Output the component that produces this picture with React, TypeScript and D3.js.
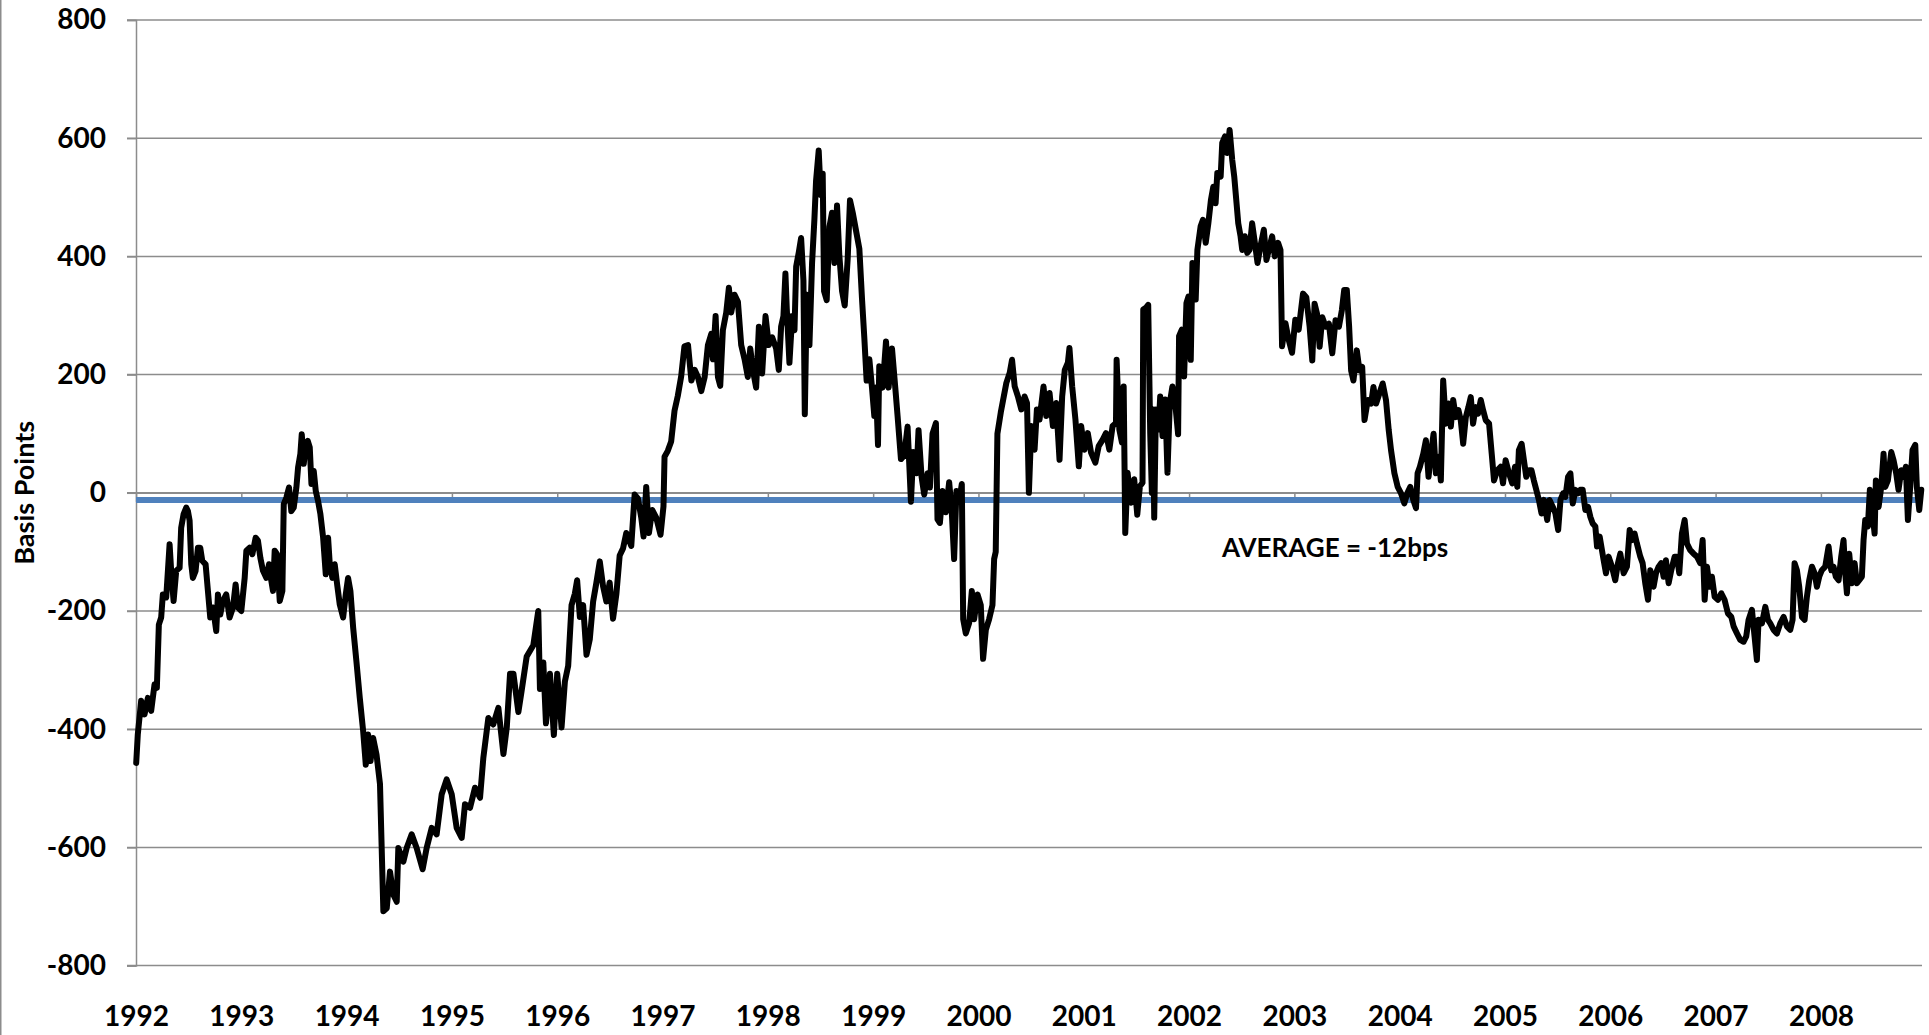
import React, { useEffect, useRef } from 'react';
import * as d3 from 'd3';

// Decimal-year dates and spread values (basis points)
const dates: number[] = [
  1992.002, 1992.017, 1992.049, 1992.081, 1992.113, 1992.144, 1992.176, 1992.198, 1992.217, 1992.239,
  1992.255, 1992.287, 1992.319, 1992.334, 1992.357, 1992.382, 1992.414, 1992.429, 1992.452, 1992.477,
  1992.493, 1992.509, 1992.525, 1992.540, 1992.566, 1992.588, 1992.610, 1992.629, 1992.661, 1992.683,
  1992.705, 1992.731, 1992.762, 1992.778, 1992.800, 1992.826, 1992.857, 1992.889, 1992.921, 1992.946,
  1992.968, 1993.000, 1993.032, 1993.048, 1993.079, 1993.105, 1993.136, 1993.158, 1993.181, 1993.206,
  1993.238, 1993.263, 1993.285, 1993.301, 1993.317, 1993.339, 1993.365, 1993.390, 1993.403, 1993.428,
  1993.453, 1993.475, 1993.498, 1993.523, 1993.539, 1993.561, 1993.574, 1993.593, 1993.612, 1993.631,
  1993.650, 1993.666, 1993.688, 1993.707, 1993.729, 1993.751, 1993.777, 1993.802, 1993.824, 1993.840,
  1993.865, 1993.887, 1993.910, 1993.935, 1993.967, 1993.992, 1994.014, 1994.036, 1994.062, 1994.093,
  1994.125, 1994.157, 1994.182, 1994.204, 1994.227, 1994.252, 1994.284,
  1994.317, 1994.349, 1994.381, 1994.412, 1994.444, 1994.476, 1994.491, 1994.539, 1994.570, 1994.618,
  1994.665, 1994.722, 1994.760, 1994.808, 1994.855, 1994.903, 1994.950, 1994.998, 1995.045, 1995.093,
  1995.124, 1995.172, 1995.219, 1995.267, 1995.298, 1995.346, 1995.393, 1995.441,
  1995.489, 1995.521, 1995.552, 1995.584, 1995.631, 1995.662, 1995.710, 1995.773, 1995.820, 1995.836,
  1995.868, 1995.893, 1995.931, 1995.968, 1996.000, 1996.041, 1996.073, 1996.104, 1996.136, 1996.167,
  1996.189, 1996.215, 1996.246, 1996.278, 1996.309, 1996.341, 1996.372, 1996.404, 1996.435, 1996.467,
  1996.498, 1996.530, 1996.562, 1996.593, 1996.625, 1996.656, 1996.703, 1996.735, 1996.767, 1996.798,
  1996.820, 1996.845, 1996.871, 1996.902, 1996.940, 1996.981, 1997.009, 1997.019, 1997.050, 1997.082,
  1997.114, 1997.145, 1997.177, 1997.208,
  1997.242, 1997.274, 1997.305, 1997.336, 1997.368, 1997.400, 1997.431, 1997.463, 1997.479, 1997.504,
  1997.526, 1997.548, 1997.573, 1997.605, 1997.630, 1997.652, 1997.684, 1997.716, 1997.747, 1997.779,
  1997.810, 1997.833, 1997.864, 1997.889, 1997.915, 1997.946, 1997.978, 1998.009, 1998.041, 1998.079,
  1998.104, 1998.126, 1998.148, 1998.167, 1998.180, 1998.205, 1998.231, 1998.253, 1998.269, 1998.294,
  1998.316, 1998.338, 1998.351, 1998.370, 1998.395, 1998.420, 1998.442, 1998.458, 1998.483, 1998.502,
  1998.521, 1998.534, 1998.559, 1998.585, 1998.610, 1998.632, 1998.657, 1998.679, 1998.705, 1998.730,
  1998.758, 1998.780, 1998.806, 1998.837, 1998.869, 1998.894, 1998.916, 1998.938, 1998.964, 1998.989,
  1999.011, 1999.027, 1999.046, 1999.058, 1999.090, 1999.122, 1999.147, 1999.179, 1999.210, 1999.232,
  1999.264, 1999.295, 1999.327, 1999.359, 1999.381, 1999.412, 1999.431, 1999.460, 1999.485, 1999.517,
  1999.539, 1999.564, 1999.596, 1999.611, 1999.634, 1999.659, 1999.690, 1999.722, 1999.747, 1999.769,
  1999.791, 1999.817, 1999.842, 1999.855, 1999.880, 1999.912, 1999.937, 1999.959, 1999.991, 2000.022,
  2000.044, 2000.070, 2000.101, 2000.133, 2000.149, 2000.164, 2000.180, 2000.212,
  2000.265, 2000.297, 2000.319, 2000.344, 2000.375, 2000.407, 2000.438, 2000.461, 2000.479, 2000.502,
  2000.533, 2000.555, 2000.580, 2000.618, 2000.644, 2000.675, 2000.707, 2000.738, 2000.770, 2000.795,
  2000.820, 2000.849, 2000.864, 2000.890, 2000.921, 2000.953, 2000.975, 2001.006, 2001.038, 2001.069,
  2001.110, 2001.142, 2001.180, 2001.211, 2001.243, 2001.274, 2001.306, 2001.312, 2001.338, 2001.363,
  2001.379, 2001.394, 2001.416, 2001.448, 2001.479, 2001.508, 2001.533, 2001.558, 2001.565, 2001.590,
  2001.612, 2001.631, 2001.647, 2001.659, 2001.669, 2001.685, 2001.710, 2001.726, 2001.748, 2001.773,
  2001.795, 2001.817, 2001.842, 2001.874, 2001.896, 2001.905, 2001.931, 2001.953, 2001.975, 2001.994,
  2002.016, 2002.032, 2002.063, 2002.079, 2002.110, 2002.132, 2002.158, 2002.183, 2002.208, 2002.230,
  2002.252, 2002.268, 2002.300, 2002.315, 2002.341, 2002.363, 2002.385, 2002.410, 2002.429, 2002.448,
  2002.467, 2002.489, 2002.505, 2002.530, 2002.552, 2002.574, 2002.599, 2002.625, 2002.650, 2002.678,
  2002.710, 2002.735, 2002.757, 2002.789, 2002.814, 2002.845, 2002.868, 2002.883, 2002.915, 2002.946,
  2002.978, 2003.009, 2003.041,
  2003.082, 2003.113, 2003.145, 2003.170, 2003.192, 2003.215, 2003.240, 2003.265, 2003.297, 2003.328,
  2003.360, 2003.391, 2003.423, 2003.451, 2003.473, 2003.498, 2003.520, 2003.539, 2003.561, 2003.593,
  2003.618, 2003.644, 2003.666, 2003.697, 2003.729, 2003.751, 2003.776, 2003.807, 2003.839, 2003.870,
  2003.896, 2003.918, 2003.950, 2003.981, 2004.013, 2004.044, 2004.072, 2004.101, 2004.129, 2004.155,
  2004.170, 2004.192, 2004.224, 2004.249, 2004.274, 2004.297, 2004.322, 2004.344, 2004.369, 2004.391,
  2004.413, 2004.438, 2004.464, 2004.486, 2004.508, 2004.533, 2004.558, 2004.580, 2004.603, 2004.628,
  2004.653, 2004.675, 2004.697, 2004.722, 2004.744, 2004.770, 2004.792, 2004.817, 2004.849, 2004.874,
  2004.896, 2004.927, 2004.959, 2004.981, 2005.006, 2005.038, 2005.069, 2005.095, 2005.117, 2005.132,
  2005.158, 2005.180, 2005.202, 2005.227, 2005.252, 2005.274, 2005.297, 2005.322, 2005.347, 2005.369,
  2005.401, 2005.423, 2005.454, 2005.479, 2005.505, 2005.527, 2005.552, 2005.574, 2005.599, 2005.621,
  2005.644, 2005.669, 2005.694, 2005.716, 2005.738, 2005.763, 2005.789, 2005.811, 2005.833, 2005.858,
  2005.874, 2005.899,
  2005.937, 2005.959, 2005.984, 2006.016, 2006.047, 2006.073, 2006.095, 2006.127, 2006.158, 2006.184,
  2006.206, 2006.231, 2006.253, 2006.285, 2006.307, 2006.332, 2006.358, 2006.380, 2006.411, 2006.434,
  2006.459, 2006.484, 2006.506, 2006.528, 2006.554, 2006.579, 2006.611, 2006.633, 2006.655, 2006.680,
  2006.706, 2006.728, 2006.759, 2006.791, 2006.823, 2006.854, 2006.877, 2006.896, 2006.918, 2006.943,
  2006.965, 2006.991, 2007.022, 2007.054, 2007.085, 2007.117, 2007.149, 2007.171, 2007.203, 2007.234,
  2007.266, 2007.291, 2007.313, 2007.345, 2007.370, 2007.392, 2007.408, 2007.440, 2007.472, 2007.497,
  2007.519, 2007.551, 2007.582, 2007.614, 2007.646, 2007.677, 2007.709, 2007.731, 2007.750, 2007.772,
  2007.794, 2007.820, 2007.845, 2007.867, 2007.889, 2007.915, 2007.940, 2007.962, 2007.984, 2008.009,
  2008.041, 2008.073, 2008.098, 2008.120, 2008.142, 2008.168, 2008.193, 2008.215, 2008.231, 2008.247,
  2008.269, 2008.294, 2008.320, 2008.342, 2008.364, 2008.389, 2008.405, 2008.421, 2008.446, 2008.465,
  2008.484, 2008.510, 2008.522, 2008.548, 2008.573, 2008.595, 2008.611, 2008.636, 2008.668, 2008.690,
  2008.715, 2008.737, 2008.763, 2008.785, 2008.807, 2008.826, 2008.848, 2008.870, 2008.896, 2008.911,
  2008.934, 2008.953,
];

const spreads: number[] = [
  -457, -409, -352, -375, -347, -369, -324, -330, -223, -211,
  -172, -177, -87, -132, -183, -132, -127, -59, -36, -25,
  -31, -47, -121, -144, -132, -93, -93, -115, -121, -166,
  -211, -194, -234, -172, -206, -183, -172, -211, -194, -155,
  -194, -200, -144, -98, -93, -104, -76, -81, -110, -132,
  -144, -121, -149, -166, -98, -104, -183, -166, -19, -8,
  9, -31, -25, 9, 43, 66, 99, 49, 82, 88,
  77, 15, 37, 3, -14, -36, -76, -138, -76, -121,
  -144, -121, -155, -189, -211, -172, -144, -166, -228, -285,
  -347, -403, -460, -409, -454, -415, -443,
  -493, -708, -703, -641, -680, -692, -601, -624, -601, -578,
  -601, -637, -601, -567, -578, -510, -485, -510, -567, -584,
  -527, -533, -499, -516, -449, -381, -392, -364,
  -442, -397, -306, -306, -371, -335, -277, -258, -200, -332,
  -287, -390, -306, -410, -306, -397, -319, -293, -190, -171,
  -148, -210, -190, -274, -248, -184, -152, -116, -158, -184,
  -152, -213, -171, -106, -94, -68, -90, -3, -10, -42,
  -74, 10, -68, -29, -42, -71, -23, 61, 71, 87,
  139, 164, 197, 248,
  250, 190, 208, 196, 172, 196, 250, 269, 226, 299,
  196, 181, 275, 305, 347, 305, 335, 323, 250, 226,
  196, 244, 202, 178, 281, 202, 299, 250, 263, 244,
  208, 281, 299, 371, 311, 220, 299, 275, 383, 407,
  431, 359, 133, 335, 250, 389, 462, 528, 579, 504,
  540, 341, 326, 450, 474, 389, 486, 401, 341, 317,
  395, 495, 474, 444, 413, 329, 263, 190, 226, 178,
  130, 178, 81, 214, 178, 256, 178, 244, 178, 130,
  57, 63, 112, -15, 69, 33, 106, 27, -3, 33,
  9, 100, 118, -45, -51, 3, -33, 18, -33, -112,
  3, -15, 15, -214, -238, -220, -166, -214, -172, -190,
  -281, -232, -214, -190, -112, -100, 100, 136,
  186, 203, 225, 180, 163, 141, 163, 152, 0, 113,
  73, 141, 124, 180, 130, 169, 113, 152, 56, 163,
  208, 220, 245, 180, 124, 45, 113, 73, 101, 68,
  51, 79, 90, 101, 73, 113, 118, 225, 107, 85,
  180, -68, 34, -17, 23, -37, 11, 17, 310, 313,
  318, 101, 0, 141, -42, 141, 107, 163, 96, 158,
  34, 152, 180, 141, 99, 265, 276, 197, 321, 332,
  225, 389, 327, 411, 451, 462, 423, 456, 496, 518,
  490, 541, 535, 592, 603, 575, 614, 563, 535, 496,
  456, 434, 411, 434, 406, 411, 456, 423, 389, 417,
  445, 394, 411, 434, 400, 423, 411, 248, 287, 259,
  237, 293, 276,
  337, 331, 281, 224, 320, 303, 247, 297, 281, 286,
  236, 292, 281, 309, 343, 343, 281, 207, 190, 241,
  207, 213, 123, 157, 151, 179, 151, 168, 185, 157,
  106, 72, 33, 10, -1, -18, -1, 10, -12, -26,
  33, 44, 66, 89, 27, 66, 100, 33, 61, 21,
  190, 117, 151, 112, 157, 128, 140, 123, 83, 128,
  145, 162, 117, 145, 134, 157, 140, 123, 117, 66,
  21, 38, 44, 16, 55, 33, 16, 44, 10, 72,
  83, 55, 27, 38, 38, 21, 5, -12, -35, -12,
  -46, -12, -24, -35, -63, -12, -1, -7, 27, 33,
  -18, 5, -1, 5, 5, -29, -24, -41, -52, -57,
  -91, -74,
  -114, -136, -108, -125, -148, -119, -103, -136, -125, -63,
  -80, -69, -86, -108, -119, -153, -181, -131, -159, -136,
  -125, -119, -142, -114, -153, -131, -108, -108, -136, -69,
  -46, -86, -97, -103, -108, -119, -80, -181, -125, -159,
  -142, -176, -181, -170, -181, -204, -210, -226, -238, -249,
  -252, -243, -215, -198, -243, -283, -215, -221, -193, -215,
  -221, -232, -238, -221, -210, -226, -232, -215, -119, -131,
  -159, -210, -215, -176, -148, -125, -136, -159, -142, -131,
  -125, -91, -131, -125, -142, -148, -108, -80, -136, -170,
  -103, -153, -119, -153, -148, -142, -80, -46, -57, 5,
  -24, -69, 21, -24, 10, 66, 10, 21, 69, 55,
  33, 5, 38, 27, 44, -46, 10, 72, 81, 10,
  -29, 5,
];

const yTicks: number[] = [-800, -600, -400, -200, 0, 200, 400, 600, 800];
const yearTicks: number[] = [1992, 1993, 1994, 1995, 1996, 1997, 1998, 1999, 2000, 2001, 2002, 2003, 2004, 2005, 2006, 2007, 2008];
const AVERAGE = -12;
const averageLabel = 'AVERAGE = -12bps';
const yTitle = 'Basis Points';

const W = 1929;
const H = 1035;
const FONT = 'Lato, "Open Sans", sans-serif';
const GRID = '#8c8c8c';

export default function App() {
  const ref = useRef<SVGSVGElement>(null);

  useEffect(() => {
    document.body.style.margin = '0';
    const svg = d3.select(ref.current);
    svg.selectAll('*').remove();

    const x = d3.scaleLinear().domain([1992, 2008.96]).range([136, 1922]);
    const y = d3.scaleLinear().domain([-800, 800]).range([965.6, 20]);

    // outer frame edge
    svg.append('line')
      .attr('x1', 0.75).attr('x2', 0.75).attr('y1', 0).attr('y2', H)
      .attr('stroke', GRID).attr('stroke-width', 1.5);

    // horizontal gridlines
    svg.append('g')
      .selectAll('line')
      .data(yTicks)
      .join('line')
      .attr('x1', 127)
      .attr('x2', x(2008.96))
      .attr('y1', (d) => y(d))
      .attr('y2', (d) => y(d))
      .attr('stroke', GRID)
      .attr('stroke-width', 1.5);

    // y axis (labels)
    const yAxis = svg.append('g')
      .attr('transform', `translate(${x(1992)},0)`)
      .call(d3.axisLeft(y).tickValues(yTicks).tickSize(9).tickPadding(21).tickFormat((d) => String(d)));
    yAxis.select('.domain').attr('stroke', GRID).attr('stroke-width', 1.5);
    yAxis.selectAll('.tick line').attr('stroke', GRID).attr('stroke-width', 1.5);
    yAxis.selectAll('.tick text')
      .attr('font-family', FONT)
      .attr('font-weight', 700)
      .attr('font-size', 28)
      .attr('fill', '#000');

    // x axis line at zero with tick marks
    const xAxis0 = svg.append('g')
      .attr('transform', `translate(0,${y(0)})`)
      .call(d3.axisBottom(x).tickValues(yearTicks).tickSize(9).tickSizeOuter(0).tickFormat(() => ''));
    xAxis0.select('.domain').attr('stroke', GRID).attr('stroke-width', 1.5);
    xAxis0.selectAll('.tick line').attr('stroke', GRID).attr('stroke-width', 1.5);

    // x labels at the bottom
    const xAxisLbl = svg.append('g')
      .attr('transform', `translate(0,${y(-800)})`)
      .call(d3.axisBottom(x).tickValues(yearTicks).tickSize(0).tickPadding(41).tickFormat((d) => String(d)));
    xAxisLbl.select('.domain').remove();
    xAxisLbl.selectAll('.tick text')
      .attr('font-family', FONT)
      .attr('font-weight', 700)
      .attr('font-size', 28)
      .attr('fill', '#000');

    // average line
    svg.append('line')
      .attr('x1', x(1992)).attr('x2', x(2008.96))
      .attr('y1', y(AVERAGE)).attr('y2', y(AVERAGE))
      .attr('stroke', '#4f81bd')
      .attr('stroke-width', 6);

    // series
    const pts = dates.map((d, i) => [d, spreads[i]] as [number, number]);
    const line = d3.line<[number, number]>().x((d) => x(d[0])).y((d) => y(d[1]));
    svg.append('path')
      .datum(pts)
      .attr('d', line)
      .attr('fill', 'none')
      .attr('stroke', '#000')
      .attr('stroke-width', 6)
      .attr('stroke-linejoin', 'round')
      .attr('stroke-linecap', 'round');

    // average label
    svg.append('text')
      .attr('x', 1222)
      .attr('y', 557)
      .attr('font-family', FONT)
      .attr('font-weight', 700)
      .attr('font-size', 26)
      .attr('fill', '#000')
      .text(averageLabel);

    // y title
    svg.append('text')
      .attr('transform', `translate(34,${y(0)}) rotate(-90)`)
      .attr('text-anchor', 'middle')
      .attr('font-family', FONT)
      .attr('font-weight', 700)
      .attr('font-size', 27)
      .attr('fill', '#000')
      .text(yTitle);
  }, []);

  return (
    <div style={{ position: 'absolute', left: 0, top: 0 }}>
      <svg ref={ref} width={W} height={H} style={{ display: 'block', background: '#fff' }} />
    </div>
  );
}
